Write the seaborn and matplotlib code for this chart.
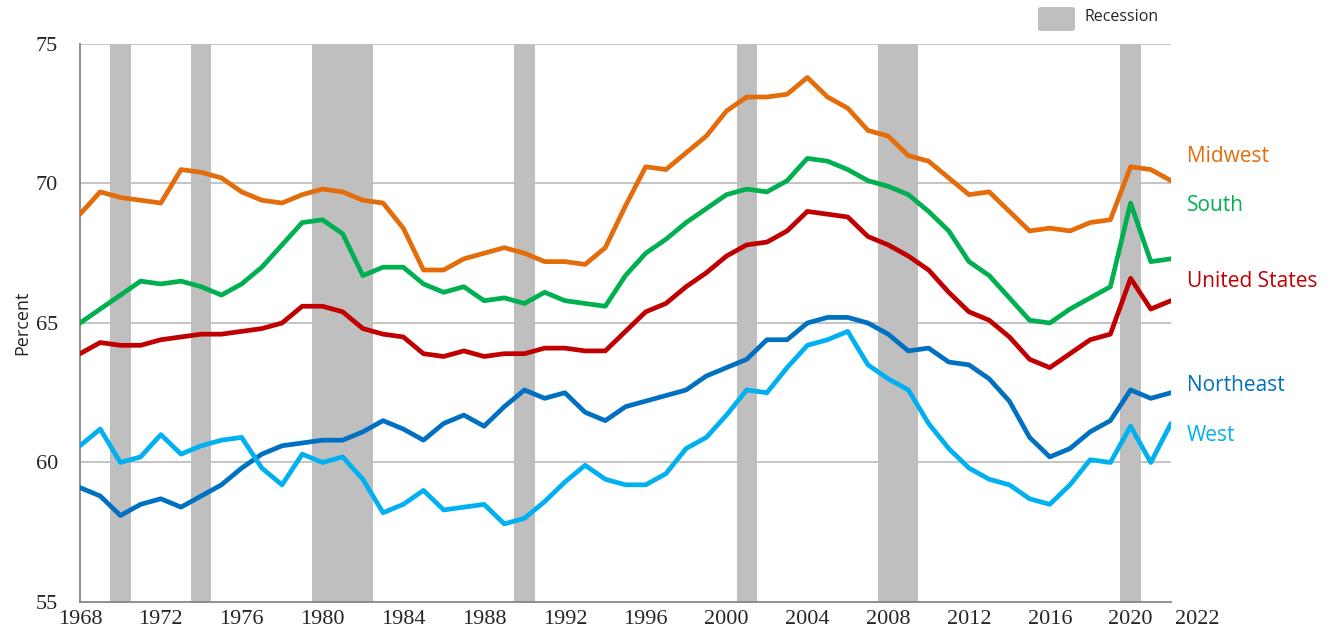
import pandas as pd
import matplotlib
matplotlib.use('Agg')
import matplotlib.pyplot as plt
import seaborn as sns
from matplotlib.patches import FancyBboxPatch

# Datos
years = list(range(1968, 2023))

midwest = [68.9, 69.7, 69.5, 69.4, 69.3, 70.5, 70.4, 70.2, 69.7, 69.4,
           69.3, 69.6, 69.8, 69.7, 69.4, 69.3, 68.4, 66.9, 66.9, 67.3,
           67.5, 67.7, 67.5, 67.2, 67.2, 67.1, 67.7, 69.2, 70.6, 70.5,
           71.1, 71.7, 72.6, 73.1, 73.1, 73.2, 73.8, 73.1, 72.7, 71.9,
           71.7, 71.0, 70.8, 70.2, 69.6, 69.7, 69.0, 68.3, 68.4, 68.3,
           68.6, 68.7, 70.6, 70.5, 70.1]
south = [65.0, 65.5, 66.0, 66.5, 66.4, 66.5, 66.3, 66.0, 66.4, 67.0,
         67.8, 68.6, 68.7, 68.2, 66.7, 67.0, 67.0, 66.4, 66.1, 66.3,
         65.8, 65.9, 65.7, 66.1, 65.8, 65.7, 65.6, 66.7, 67.5, 68.0,
         68.6, 69.1, 69.6, 69.8, 69.7, 70.1, 70.9, 70.8, 70.5, 70.1,
         69.9, 69.6, 69.0, 68.3, 67.2, 66.7, 65.9, 65.1, 65.0, 65.5,
         65.9, 66.3, 69.3, 67.2, 67.3]
united_states = [63.9, 64.3, 64.2, 64.2, 64.4, 64.5, 64.6, 64.6, 64.7, 64.8,
                 65.0, 65.6, 65.6, 65.4, 64.8, 64.6, 64.5, 63.9, 63.8, 64.0,
                 63.8, 63.9, 63.9, 64.1, 64.1, 64.0, 64.0, 64.7, 65.4, 65.7,
                 66.3, 66.8, 67.4, 67.8, 67.9, 68.3, 69.0, 68.9, 68.8, 68.1,
                 67.8, 67.4, 66.9, 66.1, 65.4, 65.1, 64.5, 63.7, 63.4, 63.9,
                 64.4, 64.6, 66.6, 65.5, 65.8]
northeast = [59.1, 58.8, 58.1, 58.5, 58.7, 58.4, 58.8, 59.2, 59.8, 60.3,
             60.6, 60.7, 60.8, 60.8, 61.1, 61.5, 61.2, 60.8, 61.4, 61.7,
             61.3, 62.0, 62.6, 62.3, 62.5, 61.8, 61.5, 62.0, 62.2, 62.4,
             62.6, 63.1, 63.4, 63.7, 64.4, 64.4, 65.0, 65.2, 65.2, 65.0,
             64.6, 64.0, 64.1, 63.6, 63.5, 63.0, 62.2, 60.9, 60.2, 60.5,
             61.1, 61.5, 62.6, 62.3, 62.5]
west = [60.6, 61.2, 60.0, 60.2, 61.0, 60.3, 60.6, 60.8, 60.9, 59.8,
        59.2, 60.3, 60.0, 60.2, 59.4, 58.2, 58.5, 59.0, 58.3, 58.4,
        58.5, 57.8, 58.0, 58.6, 59.3, 59.9, 59.4, 59.2, 59.2, 59.6,
        60.5, 60.9, 61.7, 62.6, 62.5, 63.4, 64.2, 64.4, 64.7, 63.5,
        63.0, 62.6, 61.4, 60.5, 59.8, 59.4, 59.2, 58.7, 58.5, 59.2,
        60.1, 60.0, 61.3, 60.0, 61.4]

# Recesiones (años sombreados)
recession_start = [1970, 1974, 1980, 1990, 2001, 2008, 2020]
recession_end = [1970, 1974, 1982, 1990, 2001, 2009, 2020]

regions = ['Midwest', 'South', 'United States', 'Northeast', 'West']
colors = ['#E46C0A', '#00B050', '#C00000', '#0070C0', '#00B0F0']
series = [midwest, south, united_states, northeast, west]

df = pd.concat([pd.DataFrame({'year': years, 'rate': s, 'region': r})
                for r, s in zip(regions, series)], ignore_index=True)

# Gráfico
sns.set_style('white')
fig = plt.figure(figsize=(13.33, 6.34), dpi=100)
ax = fig.add_axes([80 / 1333, 1 - 602 / 634, 1091 / 1333, 558 / 634])

for y in [60, 65, 70, 75]:
    ax.axhline(y, color='#BFBFBF', lw=1.3, zorder=0)

for a, b in zip(recession_start, recession_end):
    ax.axvspan(a - 0.5, b + 0.5, color='#BFBFBF', lw=0, zorder=1)

sns.lineplot(data=df, x='year', y='rate', hue='region', hue_order=regions,
             palette=colors, linewidth=3.4, legend=False, ax=ax, zorder=3)

ax.set_xlim(1968, 2022)
ax.set_ylim(55, 75)
ax.set_xticks(list(range(1968, 2021, 4)))
ax.set_xticks([x + 0.5 for x in range(1968, 2022)] + list(range(1968, 2023)), minor=True)
ax.set_yticks([55, 60, 65, 70, 75])
ax.tick_params(axis='x', which='both', direction='in', color='#868686', length=4, width=1)
ax.tick_params(axis='x', which='major', pad=6)
ax.tick_params(axis='y', length=0, pad=16)
for lab in ax.get_xticklabels() + ax.get_yticklabels():
    lab.set_fontfamily('Liberation Serif')
    lab.set_fontsize(16)
ax.text(2023.3, 54.72, '2022', ha='center', va='top',
        fontsize=16, family='Liberation Serif', clip_on=False)

for side in ['top', 'right']:
    ax.spines[side].set_visible(False)
for side in ['left', 'bottom']:
    ax.spines[side].set_color('#868686')
    ax.spines[side].set_linewidth(1.3)

ax.set_xlabel('')
ax.set_ylabel('Percent', fontsize=13, family='Open Sans', labelpad=3)

# Etiquetas a la derecha
label_y = [70.95, 69.2, 66.5, 62.75, 60.95]
for name, c, yy in zip(regions, colors, label_y):
    ax.text(2022.8, yy, name, color=c, fontsize=15, family='Open Sans',
            va='center', ha='left', clip_on=False)

# Leyenda de recesión
fig.patches.append(FancyBboxPatch((1038 / 1333, 1 - 31 / 634), 37 / 1333, 24 / 634,
                                  boxstyle='round,pad=0,rounding_size=0.003',
                                  transform=fig.transFigure, color='#BFBFBF', lw=0))
fig.text(1085 / 1333, 1 - 17 / 634, 'Recession', fontsize=11.5, family='Open Sans',
         va='center', ha='left')

plt.savefig('out.png', dpi=100)
